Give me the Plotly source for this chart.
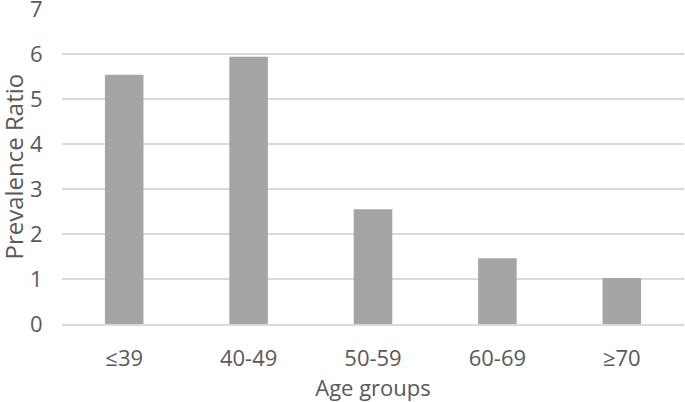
import plotly.graph_objects as go

categories = ["≤39", "40-49", "50-59", "60-69", "≥70"]
prevalence_ratio = [5.54, 5.94, 2.55, 1.46, 1.02]
y_ticks = [0, 1, 2, 3, 4, 5, 6, 7]

text_color = "#595959"
font_family = "Open Sans, Noto Sans, sans-serif"

fig = go.Figure(
    go.Bar(
        x=categories,
        y=prevalence_ratio,
        marker=dict(color="#a5a5a5", line=dict(width=0)),
        width=0.31,
    )
)

fig.update_layout(
    width=685,
    height=402,
    margin=dict(l=62, r=1, t=9, b=78),
    paper_bgcolor="white",
    plot_bgcolor="white",
    showlegend=False,
    font=dict(family=font_family, color=text_color, size=21),
)

fig.update_xaxes(
    automargin=False,
    showgrid=False,
    showline=True,
    linecolor="#d9d9d9",
    linewidth=1.5,
    ticks="outside",
    ticklen=14,
    tickcolor="rgba(0,0,0,0)",
    tickfont=dict(size=22, color=text_color),
    title=dict(text="Age groups", font=dict(size=22, color=text_color), standoff=8),
)

fig.update_yaxes(
    automargin=False,
    range=[0, 7.0],
    tickvals=y_ticks,
    ticklabeloverflow="allow",
    showgrid=True,
    gridcolor="#d9d9d9",
    gridwidth=1.5,
    zeroline=False,
    ticks="outside",
    ticklen=14,
    tickcolor="rgba(0,0,0,0)",
    tickfont=dict(size=22, color=text_color),
)

fig.add_annotation(
    text="Prevalence Ratio",
    xref="paper",
    yref="paper",
    x=(13 - 62) / 622,
    y=0.5,
    xanchor="center",
    yanchor="middle",
    textangle=-90,
    showarrow=False,
    font=dict(size=24, color=text_color, family=font_family),
)

fig.write_html(
    "out.html",
    config={"displayModeBar": False},
    post_script="document.body.style.margin='0';document.body.style.overflow='hidden';",
)
